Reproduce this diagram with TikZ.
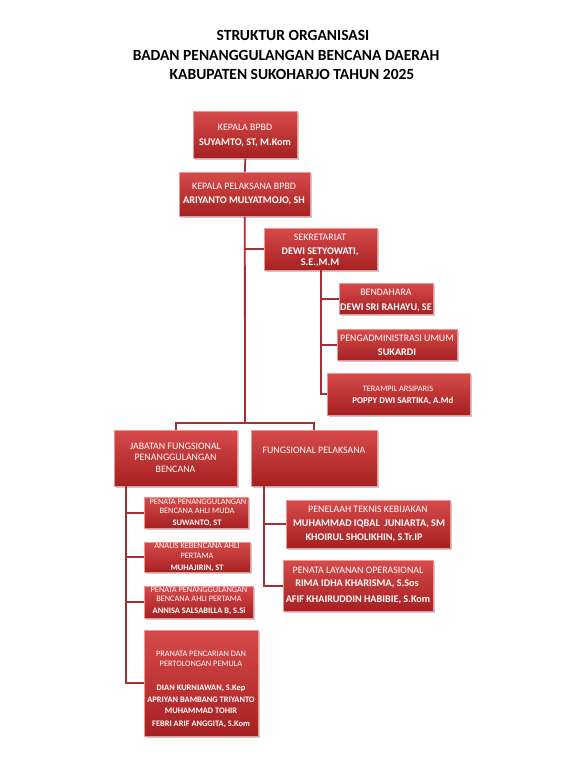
\documentclass[tikz,border=0pt]{standalone}
\usepackage{fontspec}
\setmainfont{Carlito}
\usetikzlibrary{shadows}
\definecolor{redtop}{RGB}{214,74,74}
\definecolor{redbot}{RGB}{166,32,34}
\definecolor{redline}{RGB}{236,150,150}
\definecolor{conn}{RGB}{160,48,50}
\tikzset{
  box/.style={draw=redline, line width=0.6pt, top color=redtop, bottom color=redbot,
    drop shadow={shadow xshift=1.6pt, shadow yshift=-1.6pt, opacity=0.35, fill=black!60},
    inner sep=0pt, anchor=north west},
  lbl/.style={text=white, font=\fontsize{9.9}{11}\selectfont, inner sep=0pt, align=center},
  nm/.style={text=white, font=\fontsize{10.2}{11}\selectfont\bfseries, inner sep=0pt, align=center},
  slbl/.style={text=white, font=\fontsize{8.3}{9}\selectfont, inner sep=0pt, align=center},
  snm/.style={text=white, font=\fontsize{8.4}{9}\selectfont\bfseries, inner sep=0pt, align=center},
  ttl/.style={text=black, font=\fontsize{15.5}{17}\selectfont\bfseries, inner sep=0pt},
  cn/.style={draw=conn, line width=1.8pt},
}
\newcommand\bx[5]{\node[box, minimum width={(#4)-(#2)}, minimum height={(#5)-(#3)}] (#1) at (#2,#3) {};}
\begin{document}
\begin{tikzpicture}[x=1pt,y=-1pt]
\useasboundingbox (0,0) rectangle (586,766);
% title
\node[ttl] (t1) at (293,35) {STRUKTUR ORGANISASI};
\node[ttl] (t2) at (286,55) {BADAN PENANGGULANGAN BENCANA DAERAH};
\node[ttl] (t3) at (292,74) {KABUPATEN SUKOHARJO TAHUN 2025};
% coordinates
\coordinate (bar) at (245,423);
\coordinate (jtop) at (126,486);
\coordinate (ftop) at (264,486);
\coordinate (stop) at (321,270);
% boxes
\bx{kb}{193}{111}{297}{158}
\bx{kp}{179}{172}{310}{216}
\bx{sek}{264}{228}{377}{270}
\bx{ben}{339}{283}{433}{314}
\bx{adm}{337}{329}{457}{360}
\bx{ter}{327}{373}{470}{415}
\bx{jab}{114}{430}{237}{486}
\bx{fp}{251}{430}{377}{486}
\bx{pm}{144}{497}{248}{528}
\bx{an}{144}{542}{250}{572}
\bx{pp}{144}{586}{253}{618}
\bx{pr}{144}{630}{258}{736}
\bx{pe}{286}{500}{450}{548}
\bx{pl}{283}{560}{433}{611}
% connectors
\draw[cn] (kb.south) -- (kp.north);
\draw[cn] (kp.south) -- (bar);
\draw[cn] (kp.south |- sek.west) -- (sek.west);
\draw[cn] (jab.north) -- (jab.north |- bar) -- (fp.north |- bar) -- (fp.north);
\draw[cn] (stop) |- (ter.west);
\draw[cn] (stop |- ben.west) -- (ben.west);
\draw[cn] (stop |- adm.west) -- (adm.west);
\draw[cn] (jtop) |- (pr.west);
\draw[cn] (jtop |- pm.west) -- (pm.west);
\draw[cn] (jtop |- an.west) -- (an.west);
\draw[cn] (jtop |- pp.west) -- (pp.west);
\draw[cn] (ftop) |- (pl.west);
\draw[cn] (ftop |- pe.west) -- (pe.west);
% texts
\node[lbl] (kb1) at (245,127) {KEPALA BPBD};
\node[nm] (kb2) at (245,143) {SUYAMTO, ST, M.Kom};
\node[lbl] (kp1) at (244,186) {KEPALA PELAKSANA BPBD};
\node[nm] (kp2) at (244,201) {ARIYANTO MULYATMOJO, SH};
\node[lbl] (sek1) at (320,237) {SEKRETARIAT};
\node[nm] (sek2) at (320,252) {DEWI SETYOWATI,};
\node[nm] (sek3) at (320,263) {S.E.,M.M};
\node[lbl] (ben1) at (386,292) {BENDAHARA};
\node[nm] (ben2) at (386,308) {DEWI SRI RAHAYU, SE};
\node[lbl] (adm1) at (397,338) {PENGADMINISTRASI UMUM};
\node[nm] (adm2) at (397,352) {SUKARDI};
\node[slbl] (ter1) at (398,389) {TERAMPIL ARSIPARIS};
\node[snm, font=\fontsize{8.9}{10}\selectfont\bfseries] (ter2) at (403,401) {POPPY DWI SARTIKA, A.Md};
\node[lbl] (jab1) at (175.5,446) {JABATAN FUNGSIONAL};
\node[lbl] (jab2) at (175.5,457.5) {PENANGGULANGAN};
\node[lbl] (jab3) at (175.5,469) {BENCANA};
\node[lbl] (fp1) at (314,450) {FUNGSIONAL PELAKSANA};
\node[slbl] (pm1) at (198,502) {PENATA PENANGGULANGAN};
\node[slbl] (pm2) at (197,511) {BENCANA AHLI MUDA};
\node[snm] (pm3) at (197,523) {SUWANTO, ST};
\node[slbl] (an1) at (197,546) {ANALIS KEBENCANA AHLI};
\node[slbl] (an2) at (197,556) {PERTAMA};
\node[snm] (an3) at (197,568) {MUHAJIRIN, ST};
\node[slbl] (pp1) at (199,590) {PENATA PENANGGULANGAN};
\node[slbl] (pp2) at (199,599) {BENCANA AHLI PERTAMA};
\node[snm] (pp3) at (199,611) {ANNISA SALSABILLA B, S.Si};
\node[slbl] (pr1) at (201,654) {PRANATA PENCARIAN DAN};
\node[slbl] (pr2) at (201,664) {PERTOLONGAN PEMULA};
\node[snm] (pr3) at (201,688) {DIAN KURNIAWAN, S.Kep};
\node[snm] (pr4) at (201,700) {APRIYAN BAMBANG TRIYANTO};
\node[snm] (pr5) at (201,711) {MUHAMMAD TOHIR};
\node[snm] (pr6) at (201,724) {FEBRI ARIF ANGGITA, S.Kom};
\node[lbl] (pe1) at (368,509) {PENELAAH TEKNIS KEBIJAKAN};
\node[nm] (pe2) at (369,524) {MUHAMMAD IQBAL\ \ JUNIARTA, SM};
\node[nm] (pe3) at (364,538) {KHOIRUL SHOLIKHIN, S.Tr.IP};
\node[lbl] (pl1) at (358,570) {PENATA LAYANAN OPERASIONAL};
\node[nm] (pl2) at (357,584) {RIMA IDHA KHARISMA, S.Sos};
\node[nm] (pl3) at (358,600) {AFIF KHAIRUDDIN HABIBIE, S.Kom};
\end{tikzpicture}
\end{document}
